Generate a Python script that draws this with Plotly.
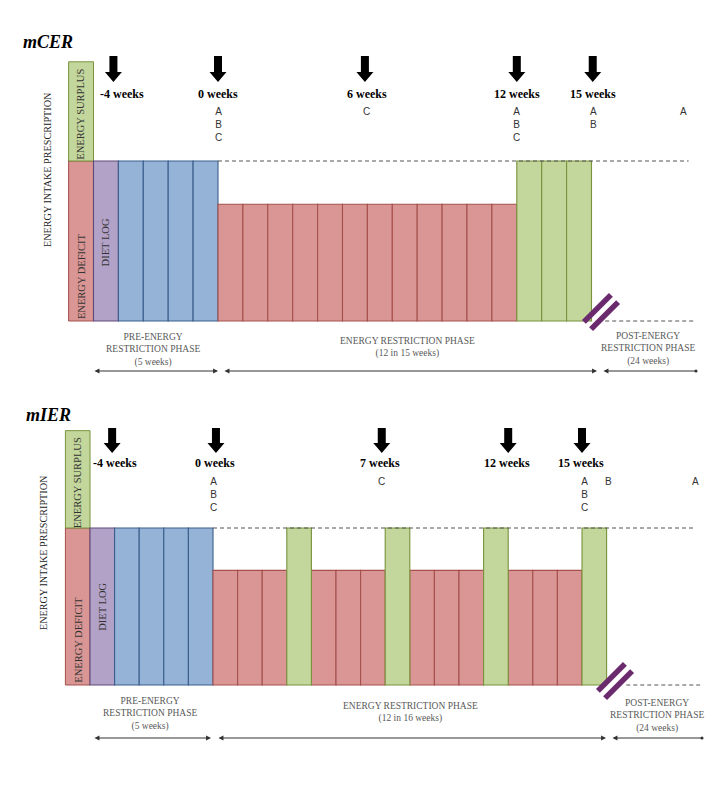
import plotly.graph_objects as go

# ---------------- data ----------------
# weekly blocks: start week of each block and its prescribed intake level (1 = maintenance)
cer_week_start = [-5, -4, -3, -2, -1, 0, 1, 2, 3, 4, 5, 6, 7, 8, 9, 10, 11, 12, 13, 14]
cer_week_type = ["log", "pre", "pre", "pre", "pre",
                 "deficit", "deficit", "deficit", "deficit", "deficit", "deficit",
                 "deficit", "deficit", "deficit", "deficit", "deficit", "deficit",
                 "balance", "balance", "balance"]
cer_intake = [1.0, 1.0, 1.0, 1.0, 1.0,
              0.73, 0.73, 0.73, 0.73, 0.73, 0.73, 0.73, 0.73, 0.73, 0.73, 0.73, 0.73,
              1.0, 1.0, 1.0]

ier_week_start = [-5, -4, -3, -2, -1, 0, 1, 2, 3, 4, 5, 6, 7, 8, 9, 10, 11, 12, 13, 14, 15]
ier_week_type = ["log", "pre", "pre", "pre", "pre",
                 "deficit", "deficit", "deficit", "balance",
                 "deficit", "deficit", "deficit", "balance",
                 "deficit", "deficit", "deficit", "balance",
                 "deficit", "deficit", "deficit", "balance"]
ier_intake = [1.0, 1.0, 1.0, 1.0, 1.0,
              0.73, 0.73, 0.73, 1.0,
              0.73, 0.73, 0.73, 1.0,
              0.73, 0.73, 0.73, 1.0,
              0.73, 0.73, 0.73, 1.0]

surplus_top = 1.62

cer_tp_week = [-4.2, 0, 5.9, 12, 15.05]
cer_tp_label_week = [-3.85, 0, 6.0, 12.0, 15.05]
cer_tp_label = ["-4 weeks", "0 weeks", "6 weeks", "12 weeks", "15 weeks"]
cer_meas_week = [0, 5.95, 12.0, 15.1, 18.7]
cer_meas_text = ["A<br>B<br>C", "C", "A<br>B<br>C", "A<br>B", "A"]

ier_tp_week = [-4.1, 0.12, 6.86, 12.0, 15.0]
ier_tp_label_week = [-4.0, 0.08, 6.8, 11.95, 14.95]
ier_tp_label = ["-4 weeks", "0 weeks", "7 weeks", "12 weeks", "15 weeks"]
ier_meas_week = [0.04, 6.83, 15.12, 16.06, 19.6]
ier_meas_text = ["A<br>B<br>C", "C", "A<br>B<br>C", "B", "A"]

phase_text = ["PRE-ENERGY<br>RESTRICTION PHASE<br>(5 weeks)",
              "ENERGY RESTRICTION PHASE<br>(12 in 15 weeks)",
              "POST-ENERGY<br>RESTRICTION PHASE<br>(24 weeks)"]
phase_text_ier = ["PRE-ENERGY<br>RESTRICTION PHASE<br>(5 weeks)",
                  "ENERGY RESTRICTION PHASE<br>(12 in 16 weeks)",
                  "POST-ENERGY<br>RESTRICTION PHASE<br>(24 weeks)"]

# ---------------- styling ----------------
FILL = {"log": "#B3A2C7", "pre": "#95B3D7", "deficit": "#DA9694", "balance": "#C3D69B"}
EDGE = {"log": "#5F497A", "pre": "#3B5E8C", "deficit": "#A5504C", "balance": "#77933C"}
SERIF = "Liberation Serif"
SANS = "Liberation Sans"

W, H = 727, 800
# pixel geometry of each panel
P = {
    1: dict(x0=218, sx=24.9, y0=321, sy=160, top=0, bot=400),
    2: dict(x0=213, sx=24.6, y0=685, sy=157, top=400, bot=800),
}


def xd(p, px):
    g = P[p]
    return (px - g["x0"]) / g["sx"]


def yd(p, py):
    g = P[p]
    return (g["y0"] - py) / g["sy"]


fig = go.Figure()
shapes = []
annots = []


def panel(p, starts, types, intake, tp_w, tp_lw, tp_lab, m_w, m_txt, ph_txt, geo):
    xa = "x" if p == 1 else "x2"
    ya = "y" if p == 1 else "y2"
    g = P[p]
    # header column: energy deficit / surplus
    fig.add_trace(go.Bar(x=[-5.5], y=[1.0], base=[0], width=[1], xaxis=xa, yaxis=ya,
                         marker=dict(color=FILL["deficit"], line=dict(color=EDGE["deficit"], width=1)),
                         showlegend=False, hoverinfo="skip"))
    fig.add_trace(go.Bar(x=[-5.5], y=[surplus_top - 1.0], base=[1.0], width=[1], xaxis=xa, yaxis=ya,
                         marker=dict(color=FILL["balance"], line=dict(color=EDGE["balance"], width=1)),
                         showlegend=False, hoverinfo="skip"))
    # weekly blocks
    for t in ["log", "pre", "deficit", "balance"]:
        xs = [s + 0.5 for s, tt in zip(starts, types) if tt == t]
        ys = [v for v, tt in zip(intake, types) if tt == t]
        fig.add_trace(go.Bar(x=xs, y=ys, base=[0] * len(xs), width=[1] * len(xs), xaxis=xa, yaxis=ya,
                             marker=dict(color=FILL[t], line=dict(color=EDGE[t], width=1.1)),
                             showlegend=False, hoverinfo="skip"))
    ref = dict(xref=xa, yref=ya)
    # column labels
    annots.append(dict(x=-5.5, y=(1.0 + surplus_top) / 2 - 0.02, text="ENERGY SURPLUS", textangle=-90,
                       showarrow=False, font=dict(family=SERIF, size=10.5, color="#333"), **ref))
    annots.append(dict(x=-5.5, y=yd(p, g["y0"] - 45), text="ENERGY DEFICIT",
                       textangle=-90, showarrow=False, font=dict(family=SERIF, size=10.5, color="#333"), **ref))
    annots.append(dict(x=-4.52, y=yd(p, geo["diet_y"]), text="DIET LOG", textangle=-90,
                       showarrow=False, font=dict(family=SERIF, size=10.5, color="#333"), **ref))
    # title and y label
    annots.append(dict(x=geo["title_x"], y=yd(p, geo["title_y"]), text="<b><i>%s</i></b>" % geo["title"],
                       xanchor="left", showarrow=False, font=dict(family=SERIF, size=18, color="#000"),
                       xref="paper", yref=ya))
    annots.append(dict(x=xd(p, geo["ylab_x"]), y=yd(p, geo["ylab_y"]), text="ENERGY INTAKE PRESCRIPTION",
                       textangle=-90, showarrow=False, font=dict(family=SERIF, size=10.2, color="#222"), **ref))
    # dashed maintenance and baseline guides
    shapes.append(dict(type="line", x0=0, x1=geo["dash1_end"], y0=1, y1=1,
                       line=dict(color="#555", width=1, dash="4px,3px"), **ref))
    shapes.append(dict(type="line", x0=geo["dash0_start"], x1=geo["dash0_end"], y0=0, y1=0,
                       line=dict(color="#555", width=1, dash="4px,3px"), **ref))
    # timepoint arrows
    hs, hh = 4 / g["sx"], 8.5 / g["sx"]
    yt, yh, yp = yd(p, geo["arr"][0]), yd(p, geo["arr"][1]), yd(p, geo["arr"][2])
    for c in tp_w:
        path = (f"M {c-hs},{yt} L {c+hs},{yt} L {c+hs},{yh} L {c+hh},{yh} L {c},{yp} "
                f"L {c-hh},{yh} L {c-hs},{yh} Z")
        shapes.append(dict(type="path", path=path, fillcolor="#000", line=dict(width=0), **ref))
    for c, lab in zip(tp_lw, tp_lab):
        annots.append(dict(x=c, y=yd(p, geo["lab_y"]), text="<b>%s</b>" % lab, showarrow=False,
                           font=dict(family=SERIF, size=12, color="#000"), **ref))
    for c, t in zip(m_w, m_txt):
        annots.append(dict(x=c, y=yd(p, geo["meas_y"]), text=t, showarrow=False, yanchor="top",
                           font=dict(family=SANS, size=10, color="#333"), **ref))
    # phase labels
    for (cx, cy), t in zip(geo["phase_pos"], ph_txt):
        annots.append(dict(x=xd(p, cx), y=yd(p, cy), text=t, showarrow=False, yanchor="top",
                           font=dict(family=SERIF, size=9.5, color="#595959"), **ref))
    # phase extent arrows
    ay = yd(p, geo["ext_y"])
    for i, (a, b) in enumerate(geo["ext"]):
        last = i == len(geo["ext"]) - 1
        annots.append(dict(x=xd(p, b), y=ay, ax=xd(p, a), ay=ay, axref=xa, ayref=ya, text="",
                           showarrow=True, arrowside="end+start",
                           arrowhead=6 if last else 2, startarrowhead=2,
                           arrowsize=0.9 if not last else 0.7, startarrowsize=0.9,
                           arrowwidth=1.1, arrowcolor="#333", standoff=0, startstandoff=0, **ref))
    # break marks (purple double slash)
    cx, cy = geo["brk"]
    L, o = 13.5, 3.6
    for s in (-1, 1):
        shapes.append(dict(type="line",
                           x0=xd(p, cx - L + s * o), y0=yd(p, cy + L + s * o),
                           x1=xd(p, cx + L + s * o), y1=yd(p, cy - L + s * o),
                           line=dict(color="#6B2A6E", width=5.5), **ref))


panel(1, cer_week_start, cer_week_type, cer_intake, cer_tp_week, cer_tp_label_week, cer_tp_label,
      cer_meas_week, cer_meas_text, phase_text,
      dict(title="mCER", title_x=0.029, title_y=42, ylab_x=47, ylab_y=170, diet_y=242,
           dash1_end=18.9, dash0_start=15.55, dash0_end=19.2, arr=(56, 72, 82), lab_y=94, meas_y=104,
           phase_pos=[(153, 330), (407, 334), (648, 329)], ext_y=371,
           ext=[(93, 218), (223, 597), (602, 696)], brk=(601, 312)))

panel(2, ier_week_start, ier_week_type, ier_intake, ier_tp_week, ier_tp_label_week, ier_tp_label,
      ier_meas_week, ier_meas_text, phase_text_ier,
      dict(title="mIER", title_x=0.033, title_y=415, ylab_x=43, ylab_y=553, diet_y=607,
           dash1_end=19.6, dash0_start=16.8, dash0_end=19.8, arr=(428, 443, 453),
           lab_y=463, meas_y=474,
           phase_pos=[(150, 694), (410, 699), (657, 696)], ext_y=738,
           ext=[(93, 211), (217, 606), (611, 702)], brk=(615, 681)))

g1, g2 = P[1], P[2]
fig.update_layout(
    width=W, height=H, margin=dict(l=0, r=0, t=0, b=0),
    paper_bgcolor="white", plot_bgcolor="white", barmode="overlay", showlegend=False,
    xaxis=dict(domain=[0, 1], range=[xd(1, 0), xd(1, W)], visible=False, anchor="y"),
    yaxis=dict(domain=[0.5, 1], range=[yd(1, g1["bot"]), yd(1, g1["top"])], visible=False, anchor="x"),
    xaxis2=dict(domain=[0, 1], range=[xd(2, 0), xd(2, W)], visible=False, anchor="y2"),
    yaxis2=dict(domain=[0, 0.5], range=[yd(2, g2["bot"]), yd(2, g2["top"])], visible=False, anchor="x2"),
    shapes=shapes, annotations=annots,
)
fig.write_html("out.html", config={"displayModeBar": False},
               post_script="document.body.style.margin='0';document.body.style.overflow='hidden';")
